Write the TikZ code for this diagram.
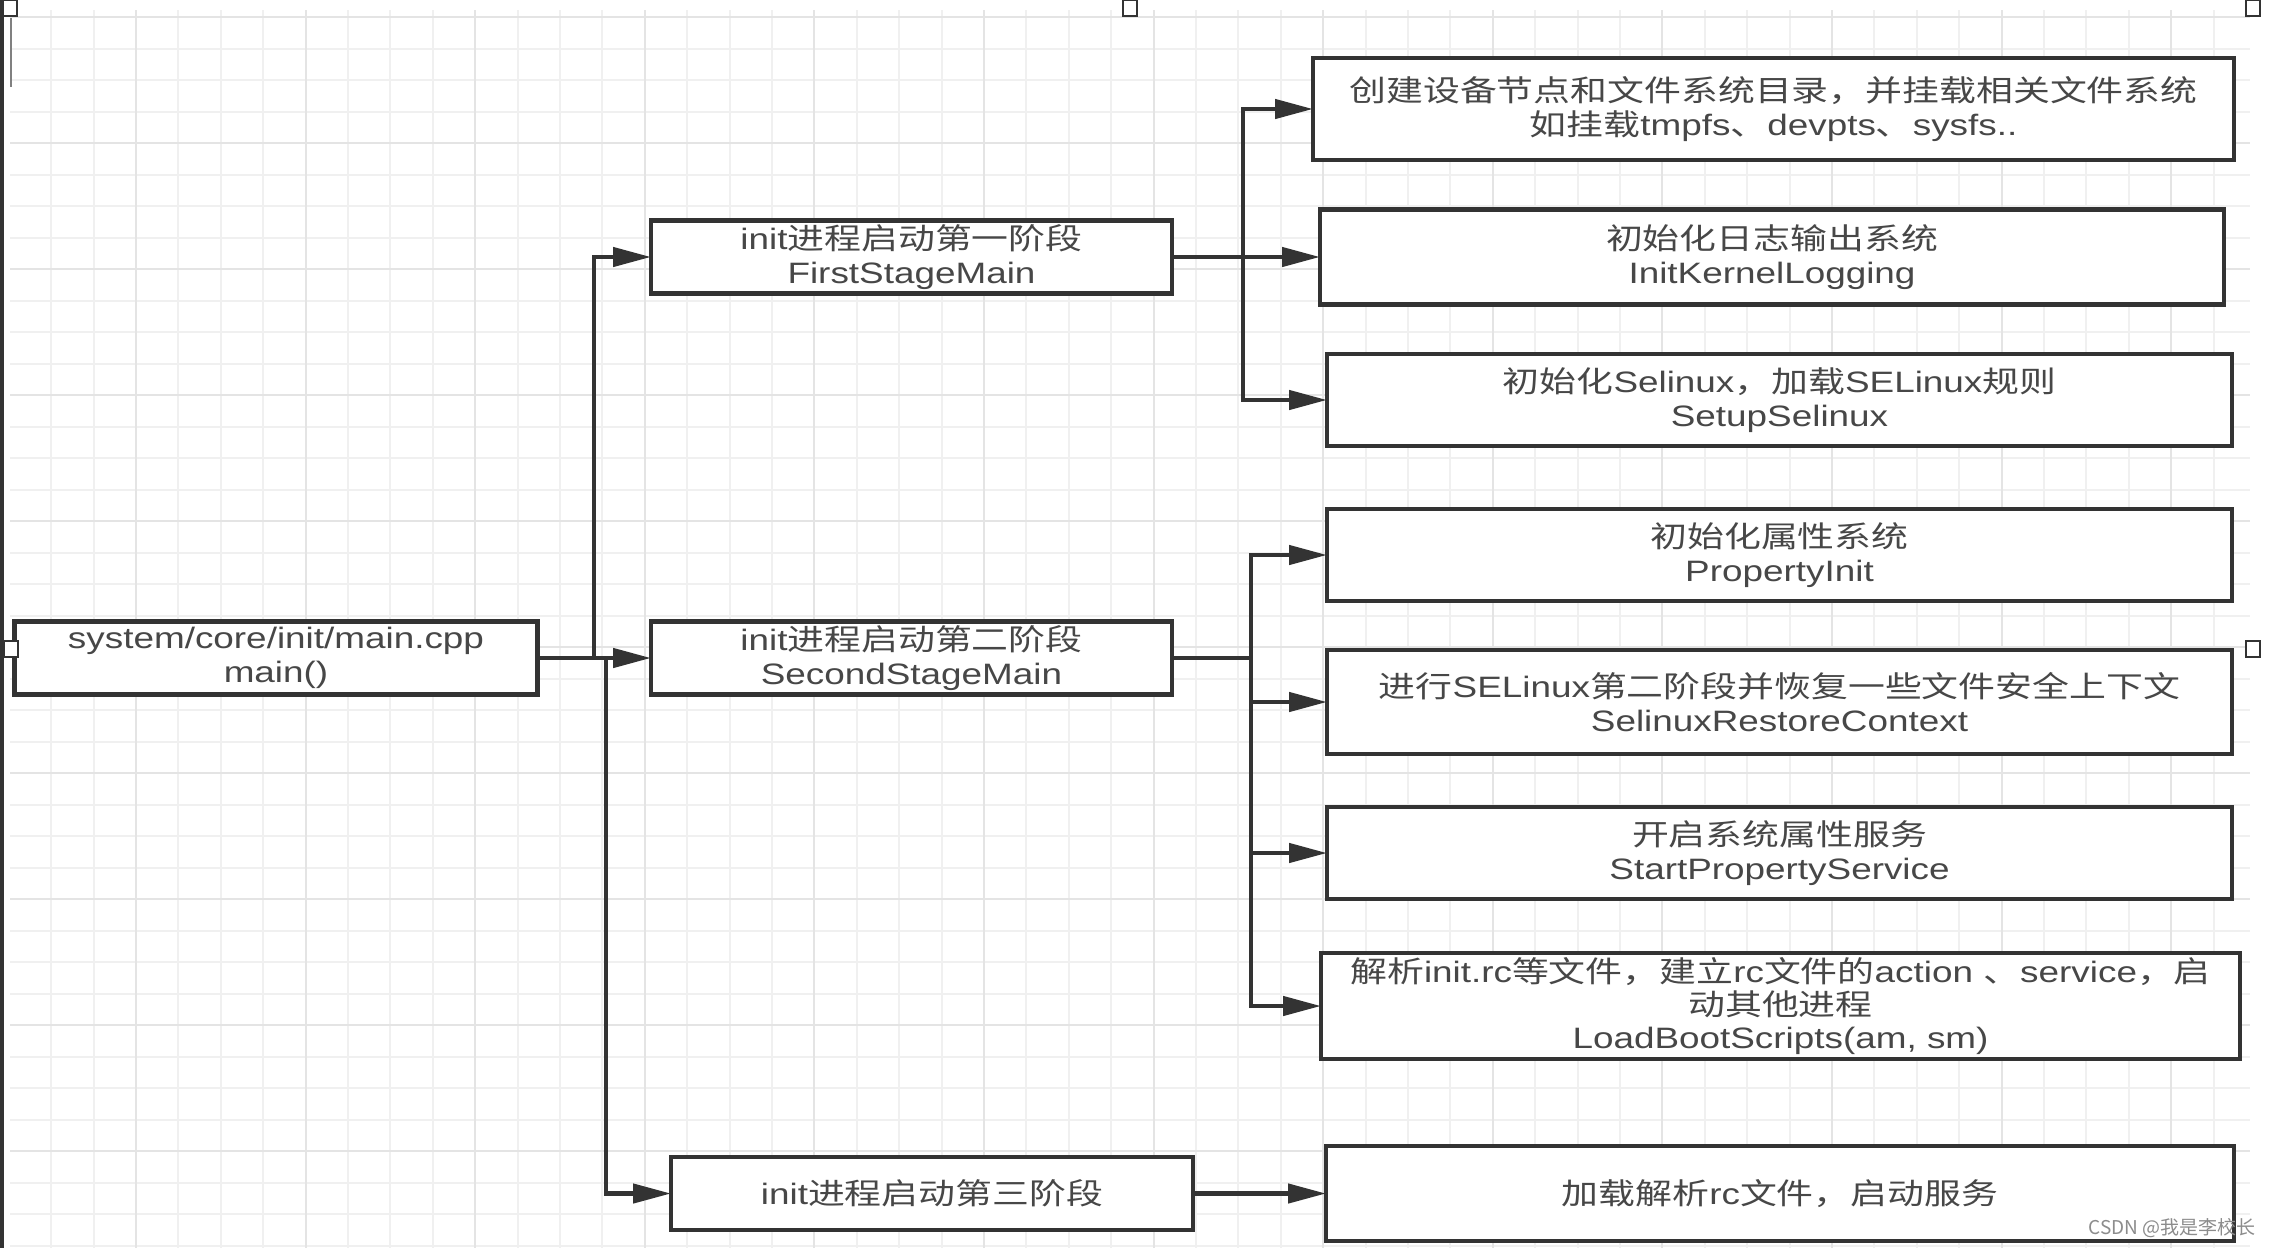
\documentclass[tikz,border=0pt]{standalone}
\usepackage{fontspec}
\setmainfont{Liberation Sans}[FakeStretch=1.25]
\newfontfamily\zhfont{Noto Sans CJK SC}[FakeStretch=1.25]
\newfontfamily\wmfont{Noto Sans CJK SC}
\usetikzlibrary{arrows.meta}
\definecolor{ink}{HTML}{333333}
\definecolor{txt}{HTML}{474747}
\definecolor{gminor}{HTML}{F0F0F0}
\definecolor{gmajor}{HTML}{E4E4E4}
\definecolor{wm}{HTML}{8C8C8C}
\newcommand\zh[1]{{\zhfont #1}}
\begin{document}
\begin{tikzpicture}[x=1pt,y=-1pt,
  box/.style={draw=ink, line width=4.5pt, fill=white, text=txt, align=center,
    inner sep=0pt, outer sep=0pt, font=\fontsize{29.5}{33.3}\selectfont},
  arr/.style={draw=ink, line width=4.5pt, -{Triangle[length=38pt,width=19pt]}},
  ln/.style={draw=ink, line width=4.5pt},
  handle/.style={draw=ink, line width=1.5pt, fill=white, minimum width=14pt,
    minimum height=16pt, inner sep=0pt},
  gridminor/.style={draw=gminor, line width=2pt},
  gridmajor/.style={draw=gmajor, line width=2pt}]
\useasboundingbox (0,0) rectangle (2272,1248);
\fill[white] (0,0) rectangle (2272,1248);
% grid
\begin{scope}
\clip (10,10) rectangle (2250,1248);
\foreach \i in {1,...,53} { \draw[gridminor] (8.8+42.4*\i,10) -- (8.8+42.4*\i,1248); }
\foreach \j in {0,...,39} { \draw[gridminor] (10,17.3+31.5*\j) -- (2250,17.3+31.5*\j); }
\foreach \i in {3,7,...,51} { \draw[gridmajor] (8.8+42.4*\i,10) -- (8.8+42.4*\i,1248); }
\foreach \j in {0,4,...,36} { \draw[gridmajor] (10,17.3+31.5*\j) -- (2250,17.3+31.5*\j); }
\end{scope}
% left edge and cursor
\fill[ink] (0,0) rectangle (4,1248);
\draw[draw=gray, line width=1.5pt] (11,18) -- (11,87);
% boxes
\node[box, minimum width=523pt, minimum height=73pt] (main) at (276,658) {system/core/init/main.cpp\\main()};
\node[box, minimum width=521pt, minimum height=73pt] (first) at (911.5,257) {init\zh{进程启动第一阶段}\\FirstStageMain};
\node[box, minimum width=521pt, minimum height=73pt] (second) at (911.5,658) {init\zh{进程启动第二阶段}\\SecondStageMain};
\node[box, minimum width=522pt, minimum height=73pt] (third) at (932,1193.5) {init\zh{进程启动第三阶段}};
\node[box, minimum width=921pt, minimum height=102pt] (r1) at (1773.5,109) {\zh{创建设备节点和文件系统目录，并挂载相关文件系统}\\\zh{如挂载}tmpfs\zh{、}devpts\zh{、}sysfs..};
\node[box, minimum width=904pt, minimum height=95pt] (r2) at (1772,257) {\zh{初始化日志输出系统}\\InitKernelLogging};
\node[box, minimum width=905pt, minimum height=92pt] (r3) at (1779.5,400) {\zh{初始化}Selinux\zh{，加载}SELinux\zh{规则}\\SetupSelinux};
\node[box, minimum width=905pt, minimum height=92pt] (r4) at (1779.5,555) {\zh{初始化属性系统}\\PropertyInit};
\node[box, minimum width=905pt, minimum height=104pt] (r5) at (1779.5,702) {\zh{进行}SELinux\zh{第二阶段并恢复一些文件安全上下文}\\SelinuxRestoreContext};
\node[box, minimum width=905pt, minimum height=92pt] (r6) at (1779.5,853) {\zh{开启系统属性服务}\\StartPropertyService};
\node[box, minimum width=919pt, minimum height=106pt] (r7) at (1780.5,1006) {\zh{解析}init.rc\zh{等文件，建立}rc\zh{文件的}action \zh{、}service\zh{，启}\\\zh{动其他进程}\\LoadBootScripts(am, sm)};
\node[box, minimum width=908pt, minimum height=95pt] (r8) at (1780,1193.5) {\zh{加载解析}rc\zh{文件，启动服务}};
% trunk coordinates
\coordinate (tA) at (594,0);
\coordinate (tB) at (606,0);
\coordinate (tC) at (1243,0);
\coordinate (tD) at (1251,0);
% connectors
\draw[arr] (main.east) -- (second.west);
\draw[arr] (main.east -| tA) |- (first.west);
\draw[arr] (main.east -| tB) |- (third.west);
\draw[ln] (first.east) -- (first.east -| tC);
\draw[arr] (first.east -| tC) |- (r1.west);
\draw[arr] (first.east) -- (r2.west);
\draw[arr] (first.east -| tC) |- (r3.west);
\draw[ln] (second.east) -- (second.east -| tD);
\draw[arr] (second.east -| tD) |- (r4.west);
\draw[arr] (second.east -| tD) |- (r5.west);
\draw[arr] (second.east -| tD) |- (r6.west);
\draw[arr] (second.east -| tD) |- (r7.west);
\draw[arr] (third.east) -- (r8.west);
% selection handles
\node[handle] (h1) at (10,8) {};
\node[handle] (h2) at (1130,8) {};
\node[handle] (h3) at (2253,8) {};
\node[handle] (h4) at (11,649) {};
\node[handle] (h5) at (2253,649) {};
% watermark
\node[anchor=east, text=wm, inner sep=0pt, font=\wmfont\fontsize{19}{19}\selectfont] (wm) at (2256,1228) {CSDN @我是李校长};
\end{tikzpicture}
\end{document}
